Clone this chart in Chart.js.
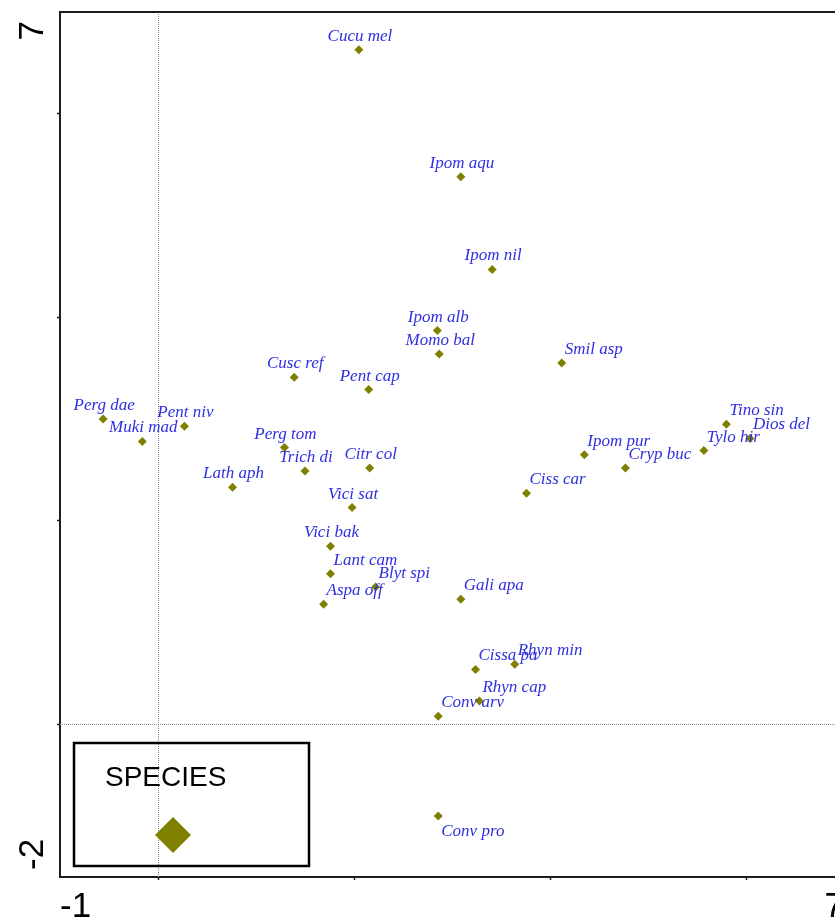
<!DOCTYPE html>
<html>
<head>
<meta charset="utf-8">
<title>Species ordination</title>
<script src="https://cdn.jsdelivr.net/npm/chart.js@4"></script>
<style>
  html, body { margin: 0; padding: 0; background: #fff; overflow: hidden; }
  #wrap { width: 870px; height: 918px; }
</style>
</head>
<body>
<div id="wrap"><canvas id="ordChart" width="870" height="918"></canvas></div>
<script>
// Species names and their scores on axis 1 (x) and axis 2 (y)
const speciesNames = [
    "Cucu mel", "Ipom aqu", "Ipom nil", "Ipom alb", "Momo bal", "Smil asp",
    "Cusc ref", "Pent cap", "Perg dae", "Muki mad", "Pent niv", "Perg tom",
    "Trich di", "Citr col", "Lath aph", "Vici sat", "Ipom pur", "Cryp buc",
    "Tylo hir", "Tino sin", "Dios del", "Ciss car", "Vici bak", "Lant cam",
    "Blyt spi", "Aspa off", "Gali apa", "Cissa pa", "Rhyn min", "Rhyn cap",
    "Conv arv", "Conv pro"
];
const axis1Scores = [
    2.05, 3.09, 3.41, 2.85, 2.87, 4.12,
    1.39, 2.15, -0.56, -0.16, 0.27, 1.29,
    1.50, 2.16, 0.76, 1.98, 4.35, 4.77,
    5.57, 5.80, 6.04, 3.76, 1.76, 1.76,
    2.22, 1.69, 3.09, 3.24, 3.64, 3.28,
    2.86, 2.86
];
const axis2Scores = [
    6.63, 5.38, 4.47, 3.87, 3.64, 3.55,
    3.41, 3.29, 3.00, 2.78, 2.93, 2.72,
    2.49, 2.52, 2.33, 2.13, 2.65, 2.52,
    2.69, 2.95, 2.81, 2.27, 1.75, 1.48,
    1.35, 1.18, 1.23, 0.54, 0.59, 0.23,
    0.08, -0.90
];
// where each name sits: c = centred above, r = above right, b = below right
const labelPlace = [
    "c", "c", "c", "c", "c", "r",
    "c", "c", "c", "c", "c", "c",
    "c", "c", "c", "c", "r", "r",
    "r", "r", "r", "r", "c", "r",
    "r", "r", "r", "r", "r", "r",
    "r", "b"
];

// axis ranges, tick marks and the end labels
const xRange = [-1, 7];
const yRange = [-1.5, 7];
const xTickValues = [0, 2, 4, 6];
const yTickValues = [0, 2, 4, 6];
const xTickLabels = ["-1", "7"];
const yTickLabels = ["-2", "7"];
const legendTitle = "SPECIES";

const olive = "#808000";
const labelBlue = "#2f2fe0";
const axisColor = "#1c1c1c";

const points = speciesNames.map((name, i) => ({ x: axis1Scores[i], y: axis2Scores[i] }));

// zero lines, frame, end labels, species names and the legend box
const ordinationPlugin = {
    id: "ordination",
    beforeDatasetsDraw(chart) {
        const { ctx, chartArea: a, scales } = chart;
        const x0 = scales.x.getPixelForValue(0);
        const y0 = scales.y.getPixelForValue(0);
        ctx.save();
        ctx.strokeStyle = "#8a8a8a";
        ctx.lineWidth = 1;
        ctx.setLineDash([1, 1]);
        ctx.beginPath();
        ctx.moveTo(Math.round(x0) + 0.5, a.top);
        ctx.lineTo(Math.round(x0) + 0.5, a.bottom);
        ctx.moveTo(a.left, Math.round(y0) + 0.5);
        ctx.lineTo(a.right, Math.round(y0) + 0.5);
        ctx.stroke();
        ctx.restore();
    },
    afterDatasetsDraw(chart) {
        const { ctx, chartArea: a } = chart;
        ctx.save();

        // top and right frame lines
        ctx.strokeStyle = axisColor;
        ctx.lineWidth = 2;
        ctx.beginPath();
        ctx.moveTo(a.left, a.top);
        ctx.lineTo(a.right, a.top);
        ctx.lineTo(a.right, a.bottom);
        ctx.stroke();

        // species names
        const meta = chart.getDatasetMeta(0);
        ctx.fillStyle = labelBlue;
        ctx.font = 'italic 17px "Liberation Serif", "Times New Roman", serif';
        ctx.textBaseline = "alphabetic";
        meta.data.forEach((pt, i) => {
            const place = labelPlace[i];
            if (place === "c") {
                ctx.textAlign = "center";
                ctx.fillText(speciesNames[i], pt.x + 1, pt.y - 9);
            } else if (place === "r") {
                ctx.textAlign = "left";
                ctx.fillText(speciesNames[i], pt.x + 3, pt.y - 9);
            } else {
                ctx.textAlign = "left";
                ctx.fillText(speciesNames[i], pt.x + 3, pt.y + 20);
            }
        });

        // axis end labels
        ctx.fillStyle = "#000";
        ctx.font = '35px "Liberation Sans", Arial, sans-serif';
        ctx.textBaseline = "alphabetic";
        ctx.textAlign = "left";
        ctx.fillText(xTickLabels[0], a.left, a.bottom + 40);
        ctx.textAlign = "right";
        ctx.fillText(xTickLabels[1], a.right, a.bottom + 40);

        ctx.save();
        ctx.translate(a.left - 17, a.bottom - 7);
        ctx.rotate(-Math.PI / 2);
        ctx.textAlign = "left";
        ctx.fillText(yTickLabels[0], 0, 0);
        ctx.restore();
        ctx.save();
        ctx.translate(a.left - 17, a.top + 9);
        ctx.rotate(-Math.PI / 2);
        ctx.textAlign = "right";
        ctx.fillText(yTickLabels[1], 0, 0);
        ctx.restore();

        // legend box (transparent, the zero line shows through)
        const bx = a.left + 14, by = a.bottom - 134, bw = 235, bh = 123;
        ctx.strokeStyle = "#000";
        ctx.lineWidth = 2.5;
        ctx.strokeRect(bx, by, bw, bh);
        ctx.fillStyle = "#000";
        ctx.font = '28px "Liberation Sans", Arial, sans-serif';
        ctx.textAlign = "left";
        ctx.fillText(legendTitle, bx + 31, by + 43);
        const cx = bx + 99, cy = by + 92, r = 18;
        ctx.fillStyle = olive;
        ctx.beginPath();
        ctx.moveTo(cx - r, cy);
        ctx.lineTo(cx, cy - r);
        ctx.lineTo(cx + r, cy);
        ctx.lineTo(cx, cy + r);
        ctx.closePath();
        ctx.fill();

        ctx.restore();
    }
};

new Chart(document.getElementById("ordChart"), {
    type: "scatter",
    data: {
        datasets: [{
            label: legendTitle,
            data: points,
            pointStyle: "rectRot",
            pointRadius: 4.5,
            pointHoverRadius: 4.5,
            backgroundColor: olive,
            borderWidth: 0
        }]
    },
    options: {
        responsive: false,
        animation: false,
        devicePixelRatio: 1,
        layout: { padding: { left: 60, top: 12, right: 26, bottom: 41 } },
        plugins: {
            legend: { display: false },
            tooltip: { enabled: false }
        },
        scales: {
            x: {
                type: "linear",
                min: xRange[0],
                max: xRange[1],
                afterBuildTicks: s => { s.ticks = xTickValues.map(v => ({ value: v })); },
                afterFit: s => { s.height = 0; },
                ticks: { display: false },
                grid: { drawOnChartArea: false, tickLength: 3, tickColor: axisColor, tickWidth: 1.5 },
                border: { color: axisColor, width: 2 }
            },
            y: {
                type: "linear",
                min: yRange[0],
                max: yRange[1],
                afterBuildTicks: s => { s.ticks = yTickValues.map(v => ({ value: v })); },
                afterFit: s => { s.width = 0; },
                ticks: { display: false },
                grid: { drawOnChartArea: false, tickLength: 3, tickColor: axisColor, tickWidth: 1.5 },
                border: { color: axisColor, width: 2 }
            }
        }
    },
    plugins: [ordinationPlugin]
});
</script>
</body>
</html>
